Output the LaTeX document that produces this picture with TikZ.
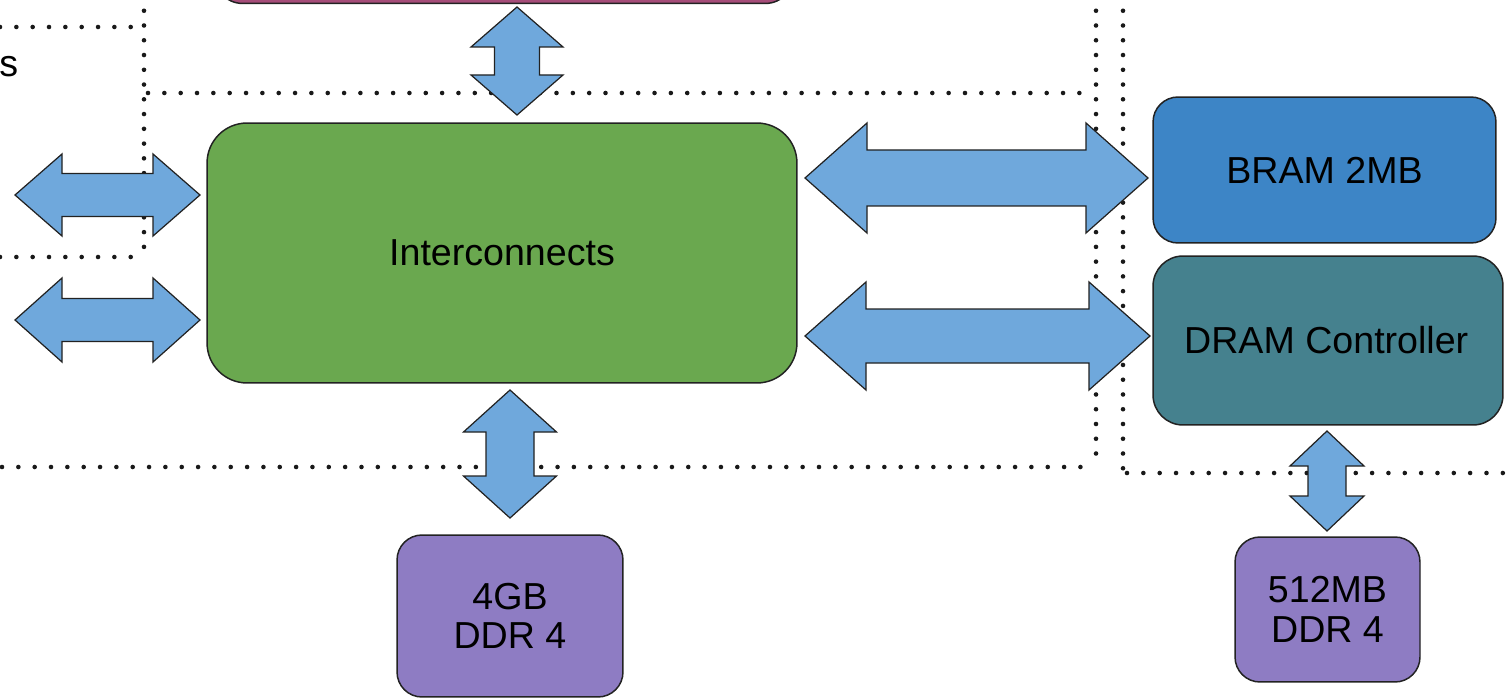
\documentclass[tikz,border=0pt]{standalone}
\usepackage{fontspec}
\setmainfont{Liberation Sans}
\definecolor{cgreen}{HTML}{6AA84F}
\definecolor{cblue}{HTML}{3D85C6}
\definecolor{cteal}{HTML}{45818E}
\definecolor{cpurple}{HTML}{8E7CC3}
\definecolor{clight}{HTML}{6FA8DC}
\definecolor{cmag}{HTML}{A64D79}
\definecolor{cline}{HTML}{222222}
\newcommand{\harrowshape}[6]{% x1 x2 y headhalf shafthalf headlen
  \path[blockarrow] (#1,#3) -- ({#1+#6},{#3-#4}) -- ({#1+#6},{#3-#5}) -- ({#2-#6},{#3-#5}) -- ({#2-#6},{#3-#4}) -- (#2,#3) -- ({#2-#6},{#3+#4}) -- ({#2-#6},{#3+#5}) -- ({#1+#6},{#3+#5}) -- ({#1+#6},{#3+#4}) -- cycle;}
\newcommand{\varrowshape}[6]{% y1 y2 x headhalf shafthalf headlen
  \path[blockarrow] (#3,#1) -- ({#3-#4},{#1+#6}) -- ({#3-#5},{#1+#6}) -- ({#3-#5},{#2-#6}) -- ({#3-#4},{#2-#6}) -- (#3,#2) -- ({#3+#4},{#2-#6}) -- ({#3+#5},{#2-#6}) -- ({#3+#5},{#1+#6}) -- ({#3+#4},{#1+#6}) -- cycle;}
\tikzset{
  box/.style={draw=cline, line width=0.85pt, rounded corners=#1, text=black, align=center, inner sep=0pt,
    font=\fontsize{21.4pt}{22.6pt}\selectfont},
  box/.default=0.5cm,
  blockarrow/.style={draw=cline, line width=0.7pt, fill=clight, line join=miter},
  hdots/.style={line width=2.6pt, line cap=round, dash pattern=on 0pt off 9.3pt, color=black!90},
  vdots/.style={line width=2.6pt, line cap=round, dash pattern=on 0pt off 8.4pt, color=black!90},
}
\begin{document}
\begin{tikzpicture}[x=0.02cm, y=-0.02cm]
\useasboundingbox (0,0) rectangle (1507,699);
\clip (0,0) rectangle (1507,699);
% dotted boundaries
\draw[hdots] (0,27) -- (144,27);
\draw[vdots] (144,-4) -- (144,250);
\draw[hdots] (0,257) -- (140,257);
\draw[hdots] (148,93) -- (1090,93);
\draw[vdots] (1096,-4) -- (1096,467);
\draw[hdots] (2,467) -- (1093,467);
\draw[vdots] (1123,-4) -- (1123,473);
\draw[hdots] (1127,473) -- (1507,473);
% partial label at left edge
\node[anchor=base west, inner sep=0pt, font=\fontsize{21.4pt}{22.6pt}\selectfont, text=black] (lbl) at (-1,77) {s};
% boxes
\node[box=0.6cm, fill=cmag, minimum width=11.64cm, minimum height=2.06cm] (top) at (504,-48) {};
\node[box=0.8cm, fill=cgreen, minimum width=11.8cm, minimum height=5.2cm] (inter) at (502,253) {Interconnects};
\node[box=0.5cm, fill=cblue, minimum width=6.86cm, minimum height=2.92cm] (bram) at (1324.5,170) {BRAM 2MB};
\node[box=0.6cm, fill=cteal, minimum width=7.0cm, minimum height=3.38cm] (dram) at (1328,340.5) {\hspace*{-0.07cm}DRAM Controller};
\node[box=0.5cm, fill=cpurple, minimum width=4.52cm, minimum height=3.24cm] (ddra) at (510,616) {4GB\\DDR 4};
\node[box=0.5cm, fill=cpurple, minimum width=3.7cm, minimum height=2.9cm] (ddrb) at (1327.5,609.5) {512MB\\DDR 4};
% block arrows
\varrowshape{7}{115}{517}{46}{22.5}{40}
\harrowshape{15}{200}{195}{41}{21.5}{47}
\harrowshape{15}{200}{320}{42}{21.5}{47}
\harrowshape{805}{1148}{178}{55}{28}{62}
\harrowshape{805}{1150}{336}{54}{27}{61}
\varrowshape{390}{518}{510}{46.5}{24}{42}
\varrowshape{431}{531}{1327}{37}{19}{35}
\end{tikzpicture}
\end{document}
